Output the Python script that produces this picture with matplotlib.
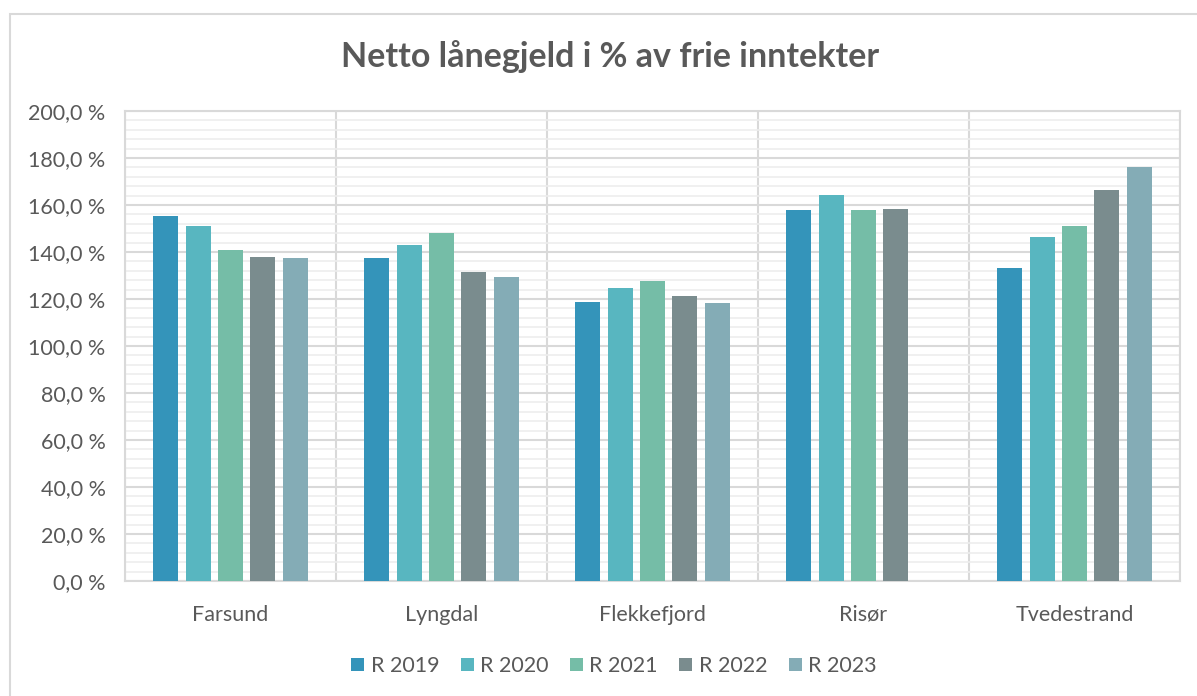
import matplotlib.pyplot as plt
from matplotlib.patches import Rectangle, Patch
from matplotlib.ticker import MultipleLocator, FuncFormatter
import numpy as np

# Data (percent)
kommuner = ["Farsund", "Lyngdal", "Flekkefjord", "Risør", "Tvedestrand"]
aar = ["R 2019", "R 2020", "R 2021", "R 2022", "R 2023"]
r2019 = [155.3, 137.6, 118.7, 157.9, 133.1]
r2020 = [151.0, 143.0, 124.7, 164.2, 146.2]
r2021 = [140.9, 148.0, 127.8, 157.9, 150.9]
r2022 = [137.9, 131.6, 121.3, 158.3, 166.4]
r2023 = [137.4, 129.4, 118.3, np.nan, 176.2]
serier = [r2019, r2020, r2021, r2022, r2023]
farger = ["#3494BA", "#58B6C0", "#75BDA7", "#7A8C8E", "#84ACB6"]

plt.rcParams['font.family'] = ['Lato', 'DejaVu Sans']
tekst = "#595959"
grid_major = "#D9D9D9"
grid_minor = "#EDEDED"

fig = plt.figure(figsize=(11.97, 6.96), dpi=100)
ax = fig.add_axes([125 / 1197, 1 - 581 / 696, (1180 - 125) / 1197, (581 - 111) / 696])

# outer chart border
fig.patches.append(Rectangle((10 / 1197, -0.05), 1.2, 1 - 14 / 696 + 0.05,
                             transform=fig.transFigure, fill=False,
                             edgecolor=grid_major, linewidth=1.5))

x = np.arange(len(kommuner))
slot = 0.153
bredde = 0.118
for j, (verdier, farge) in enumerate(zip(serier, farger)):
    ax.bar(x + (j - 2) * slot, verdier, width=bredde, color=farge,
           label=aar[j], zorder=3)

ax.set_xlim(-0.5, len(kommuner) - 0.5)
ax.set_ylim(0, 200)
ax.yaxis.set_major_locator(MultipleLocator(20))
ax.yaxis.set_minor_locator(MultipleLocator(4))
ax.yaxis.set_major_formatter(FuncFormatter(lambda v, p: f"{v:.1f}".replace(".", ",") + " %"))
ax.set_xticks(x)
ax.set_xticklabels(kommuner)
ax.set_xticks(np.arange(len(kommuner) + 1) - 0.5, minor=True)

ax.grid(which='major', axis='y', color=grid_major, linewidth=1.5, zorder=1)
ax.grid(which='minor', axis='y', color=grid_minor, linewidth=1.2, zorder=0)
ax.grid(which='minor', axis='x', color=grid_major, linewidth=1.5, zorder=1)

for s in ax.spines.values():
    s.set_color(grid_major)
    s.set_linewidth(1.5)

ax.tick_params(which='both', length=0)
ax.tick_params(axis='y', labelsize=15.5, labelcolor=tekst, pad=14)
ax.tick_params(axis='x', labelsize=15.5, labelcolor=tekst, pad=17)

fig.text(610 / 1197, 1 - 57 / 696, "Netto lånegjeld i % av frie inntekter", ha='center', va='center',
         fontsize=24.5, fontweight='bold', color=tekst)

handles = [Patch(facecolor=f, edgecolor='none') for f in farger]
leg = fig.legend(handles, aar, loc='center', bbox_to_anchor=(614 / 1197, 1 - 666 / 696),
                 ncol=5, frameon=False, fontsize=15.5, handlelength=0.6, handleheight=0.6,
                 handletextpad=0.3, columnspacing=1.0)
for t in leg.get_texts():
    t.set_color(tekst)

fig.savefig("out.png", dpi=100)
